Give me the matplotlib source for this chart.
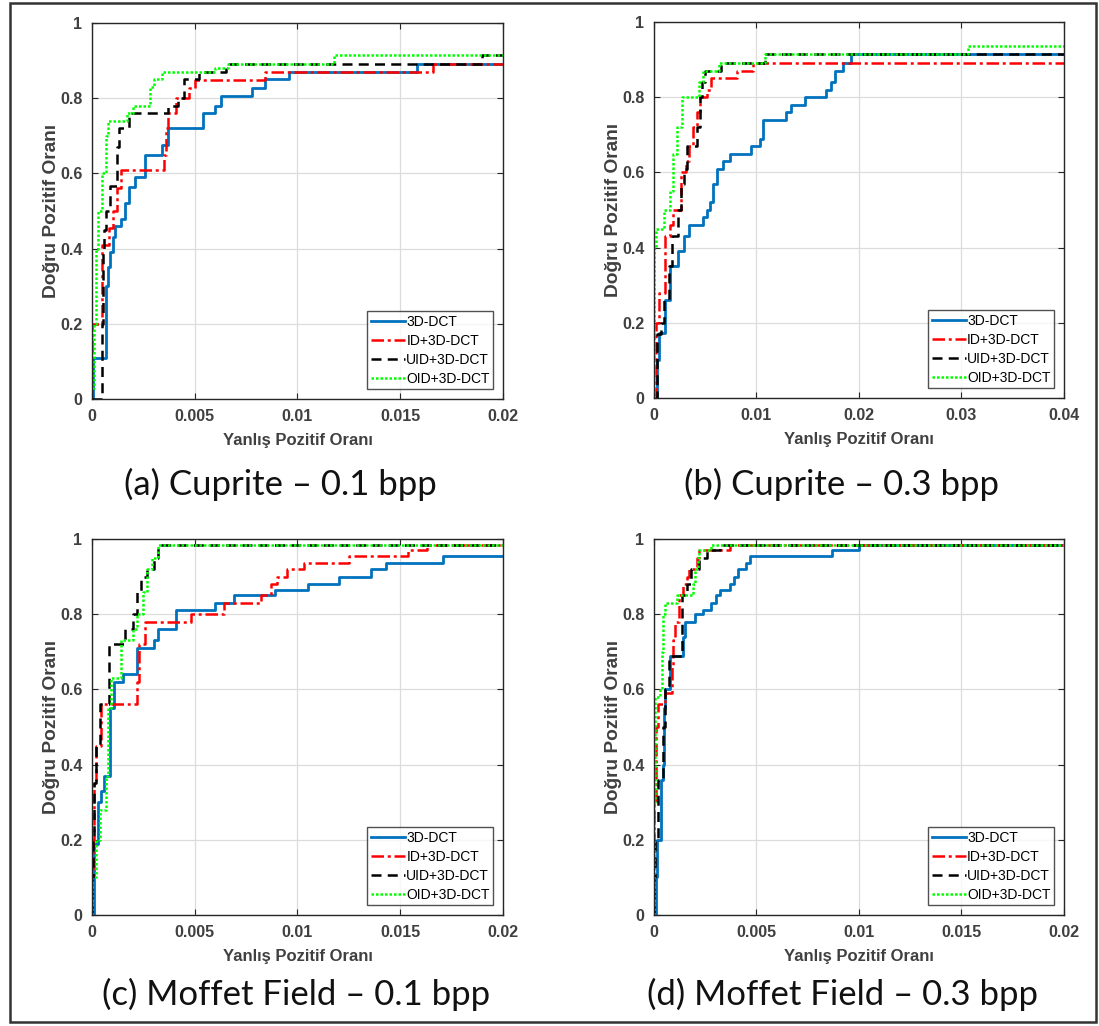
import matplotlib
matplotlib.use("Agg")
import matplotlib.pyplot as plt
from matplotlib.patches import Rectangle

plt.rcParams["font.family"] = ["Liberation Sans", "DejaVu Sans"]

series_names = ["3D-DCT", "ID+3D-DCT", "UID+3D-DCT", "OID+3D-DCT"]
captions = ["(a) Cuprite – 0.1 bpp", "(b) Cuprite – 0.3 bpp",
            "(c) Moffet Field – 0.1 bpp", "(d) Moffet Field – 0.3 bpp"]
x_limits = [0.02, 0.04, 0.02, 0.02]
x_ticks = [[0, 0.005, 0.01, 0.015, 0.02],
           [0, 0.01, 0.02, 0.03, 0.04],
           [0, 0.005, 0.01, 0.015, 0.02],
           [0, 0.005, 0.01, 0.015, 0.02]]
x_ticklabels = [["0", "0.005", "0.01", "0.015", "0.02"],
                ["0", "0.01", "0.02", "0.03", "0.04"],
                ["0", "0.005", "0.01", "0.015", "0.02"],
                ["0", "0.005", "0.01", "0.015", "0.02"]]
y_ticks = [0, 0.2, 0.4, 0.6, 0.8, 1]
y_ticklabels = ["0", "0.2", "0.4", "0.6", "0.8", "1"]

# (a) Cuprite 0.1 bpp
a_dct_x = [0, 0.00005, 0.0007, 0.0008, 0.0009, 0.001, 0.0011, 0.0014, 0.0016, 0.0018, 0.0021,
           0.0026, 0.0034, 0.0037, 0.0054, 0.006, 0.0063, 0.0078, 0.0084, 0.0096, 0.0158, 0.02]
a_dct_y = [0, 0.11, 0.3, 0.35, 0.39, 0.43, 0.46, 0.48, 0.52, 0.565, 0.59,
           0.65, 0.675, 0.72, 0.76, 0.78, 0.805, 0.826, 0.85, 0.87, 0.89, 0.89]
a_id_x = [0, 0, 0.0005, 0.00085, 0.001, 0.0012, 0.0014, 0.0035, 0.0036, 0.0037, 0.0041,
          0.0047, 0.005, 0.0084, 0.0166, 0.02]
a_id_y = [0, 0.2, 0.41, 0.456, 0.5, 0.56, 0.61, 0.65, 0.72, 0.76, 0.8,
          0.826, 0.849, 0.87, 0.892, 0.892]
a_uid_x = [0, 0.0005, 0.00055, 0.0006, 0.0007, 0.0009, 0.0012, 0.0013, 0.0018, 0.0037, 0.0042,
           0.0045, 0.0052, 0.0065, 0.019, 0.02]
a_uid_y = [0, 0.2, 0.4, 0.45, 0.5, 0.567, 0.67, 0.72, 0.76, 0.78, 0.8,
           0.85, 0.87, 0.892, 0.914, 0.914]
a_oid_x = [0, 0.0001, 0.0002, 0.0003, 0.0005, 0.0007, 0.0008, 0.0017, 0.002, 0.0028, 0.003,
           0.0034, 0.006, 0.0066, 0.0118, 0.02]
a_oid_y = [0.03, 0.2, 0.4, 0.5, 0.6, 0.7, 0.74, 0.76, 0.78, 0.83, 0.85,
           0.87, 0.88, 0.892, 0.914, 0.914]

# (b) Cuprite 0.3 bpp
b_dct_x = [0, 0.0003, 0.0005, 0.0011, 0.0016, 0.0023, 0.0029, 0.0034, 0.0048, 0.0052,
           0.0055, 0.0058, 0.0061, 0.0067, 0.0074, 0.0095, 0.0103, 0.0106, 0.0129, 0.0134,
           0.0147, 0.0168, 0.0173, 0.0177, 0.0184, 0.0192, 0.04]
b_dct_y = [0, 0.1, 0.173, 0.26, 0.35, 0.39, 0.43, 0.46, 0.48, 0.5,
           0.52, 0.57, 0.61, 0.63, 0.65, 0.67, 0.69, 0.74, 0.76, 0.78,
           0.8, 0.82, 0.84, 0.87, 0.89, 0.914, 0.914]
b_id_x = [0, 0.0002, 0.0005, 0.0011, 0.0016, 0.0019, 0.0026, 0.0031, 0.0034, 0.0038,
          0.0042, 0.0045, 0.0052, 0.0056, 0.0081, 0.0097, 0.04]
b_id_y = [0, 0.2, 0.28, 0.43, 0.46, 0.5, 0.6, 0.63, 0.67, 0.72,
          0.76, 0.8, 0.82, 0.85, 0.87, 0.892, 0.892]
b_uid_x = [0, 0.0003, 0.00065, 0.001, 0.00145, 0.0018, 0.0023, 0.0026, 0.0029, 0.0032,
           0.0042, 0.0045, 0.0047, 0.005, 0.0065, 0.0108, 0.04]
b_uid_y = [0, 0.17, 0.2, 0.26, 0.35, 0.43, 0.5, 0.57, 0.61, 0.67,
           0.72, 0.8, 0.84, 0.87, 0.89, 0.914, 0.914]
b_oid_x = [0, 0, 0.0002, 0.001, 0.0016, 0.0019, 0.0022, 0.0027, 0.0044, 0.0048, 0.0063,
           0.0108, 0.0306, 0.04]
b_oid_y = [0, 0.4, 0.45, 0.5, 0.55, 0.65, 0.72, 0.8, 0.84, 0.87, 0.89,
           0.914, 0.936, 0.936]

# (c) Moffet Field 0.1 bpp
c_dct_x = [0, 0.0001, 0.0003, 0.00045, 0.0006, 0.0009, 0.00105, 0.0015, 0.0022, 0.003,
           0.0032, 0.0041, 0.006, 0.0069, 0.0089, 0.0105, 0.012, 0.0136, 0.0143, 0.0171, 0.02]
c_dct_y = [0, 0.19, 0.3, 0.33, 0.37, 0.55, 0.62, 0.64, 0.71, 0.73,
           0.76, 0.81, 0.83, 0.85, 0.865, 0.88, 0.9, 0.92, 0.936, 0.954, 0.954]
c_id_x = [0, 0, 0.00005, 0.0001, 0.0002, 0.00045, 0.0022, 0.0023, 0.0026, 0.0048, 0.0064,
          0.0082, 0.0087, 0.009, 0.0095, 0.0103, 0.0125, 0.0154, 0.0163, 0.02]
c_id_y = [0, 0.1, 0.2, 0.35, 0.45, 0.56, 0.62, 0.72, 0.78, 0.8, 0.83,
          0.85, 0.88, 0.9, 0.92, 0.936, 0.954, 0.97, 0.985, 0.985]
c_uid_x = [0, 0, 0.00005, 0.0001, 0.0002, 0.0004, 0.00085, 0.0016, 0.002, 0.0022, 0.0024,
           0.0027, 0.003, 0.0032, 0.02]
c_uid_y = [0, 0.1, 0.2, 0.35, 0.45, 0.56, 0.72, 0.76, 0.8, 0.86, 0.9,
           0.92, 0.95, 0.985, 0.985]
c_oid_x = [0, 0, 0.0002, 0.00037, 0.0007, 0.00078, 0.00094, 0.0014, 0.002, 0.0022, 0.0025,
           0.0027, 0.0029, 0.0032, 0.02]
c_oid_y = [0, 0.1, 0.2, 0.28, 0.37, 0.55, 0.63, 0.73, 0.76, 0.8, 0.86,
           0.92, 0.95, 0.985, 0.985]

# (d) Moffet Field 0.3 bpp
d_dct_x = [0, 0.0001, 0.00013, 0.00032, 0.00042, 0.00049, 0.00053, 0.00078, 0.0014, 0.0015,
           0.002, 0.0024, 0.0028, 0.003, 0.0032, 0.0037, 0.0039, 0.0041, 0.0045, 0.0047,
           0.0087, 0.01, 0.02]
d_dct_y = [0, 0.1, 0.2, 0.36, 0.4, 0.55, 0.6, 0.69, 0.74, 0.78,
           0.8, 0.81, 0.83, 0.85, 0.865, 0.88, 0.9, 0.92, 0.936, 0.954,
           0.97, 0.985, 0.985]
d_id_x = [0, 0, 0.0001, 0.0002, 0.00053, 0.00086, 0.00094, 0.001, 0.0012, 0.0014, 0.0016,
          0.0017, 0.0021, 0.0022, 0.0037, 0.02]
d_id_y = [0, 0.3, 0.5, 0.56, 0.59, 0.66, 0.73, 0.78, 0.85, 0.88, 0.9,
          0.92, 0.95, 0.97, 0.985, 0.985]
d_uid_x = [0, 0, 0.00005, 0.0002, 0.00045, 0.00053, 0.00075, 0.00135, 0.0016, 0.0018,
           0.0022, 0.0026, 0.0032, 0.02]
d_uid_y = [0, 0.1, 0.2, 0.36, 0.5, 0.6, 0.69, 0.85, 0.88, 0.92,
           0.95, 0.97, 0.985, 0.985]
d_oid_x = [0, 0, 0.00003, 0.00005, 0.0003, 0.00037, 0.00045, 0.00053, 0.0011, 0.0019, 0.002,
           0.00215, 0.0022, 0.0028, 0.02]
d_oid_y = [0, 0.3, 0.5, 0.58, 0.6, 0.7, 0.8, 0.83, 0.85, 0.88, 0.92,
           0.95, 0.97, 0.985, 0.985]

panels = [
    [(a_dct_x, a_dct_y), (a_id_x, a_id_y), (a_uid_x, a_uid_y), (a_oid_x, a_oid_y)],
    [(b_dct_x, b_dct_y), (b_id_x, b_id_y), (b_uid_x, b_uid_y), (b_oid_x, b_oid_y)],
    [(c_dct_x, c_dct_y), (c_id_x, c_id_y), (c_uid_x, c_uid_y), (c_oid_x, c_oid_y)],
    [(d_dct_x, d_dct_y), (d_id_x, d_id_y), (d_uid_x, d_uid_y), (d_oid_x, d_oid_y)],
]

line_styles = [
    dict(color="#0072BD", linestyle="-", linewidth=2.0),
    dict(color="#FF0000", linestyle=(0, (5, 1.5, 1.2, 1.5)), linewidth=1.8),
    dict(color="#000000", linestyle=(0, (4, 2.5)), linewidth=1.8),
    dict(color="#00FF00", linestyle=(0, (1, 0.8)), linewidth=1.8),
]

# axes boxes in figure fraction: left, bottom, width, height
axes_boxes = [
    [0.0837, 0.6111, 0.374, 0.3665],
    [0.5951, 0.6121, 0.373, 0.3665],
    [0.0837, 0.1082, 0.374, 0.3665],
    [0.5951, 0.1082, 0.373, 0.3665],
]
caption_pos = [(0.2548, 0.5283), (0.766, 0.5283), (0.2693, 0.0312), (0.767, 0.0312)]

fig = plt.figure(figsize=(10.99, 10.26), dpi=100)
fig.patch.set_facecolor("white")

# outer frame
fig.patches.append(Rectangle((0.009, 0.004), 0.988, 0.993, transform=fig.transFigure,
                             fill=False, edgecolor="#333333", linewidth=1.8))

for i, box in enumerate(axes_boxes):
    ax = fig.add_axes(box)
    for (xs, ys), name, st in zip(panels[i], series_names, line_styles):
        ax.plot(xs, ys, drawstyle="steps-post", label=name, **st)
    ax.set_xlim(0, x_limits[i])
    ax.set_ylim(0, 1)
    ax.set_xticks(x_ticks[i])
    ax.set_xticklabels(x_ticklabels[i])
    ax.set_yticks(y_ticks)
    ax.set_yticklabels(y_ticklabels)
    ax.grid(True, color="#DCDCDC", linewidth=0.9)
    ax.set_axisbelow(True)
    ax.tick_params(direction="in", top=True, right=True, length=4, width=0.8,
                   colors="#262626", labelsize=11.5)
    ax.tick_params(axis="x", pad=7)
    ax.tick_params(axis="y", pad=7)
    for lab in ax.get_xticklabels() + ax.get_yticklabels():
        lab.set_fontweight("bold")
        lab.set_color("#404040")
    for sp in ax.spines.values():
        sp.set_color("#262626")
        sp.set_linewidth(1.0)
    ax.set_xlabel("Yanlış Pozitif Oranı", fontsize=12, fontweight="bold", color="#404040",
                  labelpad=7)
    ax.set_ylabel("Doğru Pozitif Oranı", fontsize=13.8, fontweight="bold", color="#404040",
                  labelpad=0)
    leg = ax.legend(loc="lower right", fontsize=10, frameon=True, fancybox=False,
                    borderpad=0.25, labelspacing=0.36, handlelength=2.45, handletextpad=0.1,
                    borderaxespad=0.7)
    leg.get_frame().set_edgecolor("#262626")
    leg.get_frame().set_linewidth(1.0)
    fig.text(caption_pos[i][0], caption_pos[i][1], captions[i], ha="center", va="center",
             fontsize=25, family=["Lato", "DejaVu Sans"], color="#111111")

fig.savefig("out.png", dpi=100)
